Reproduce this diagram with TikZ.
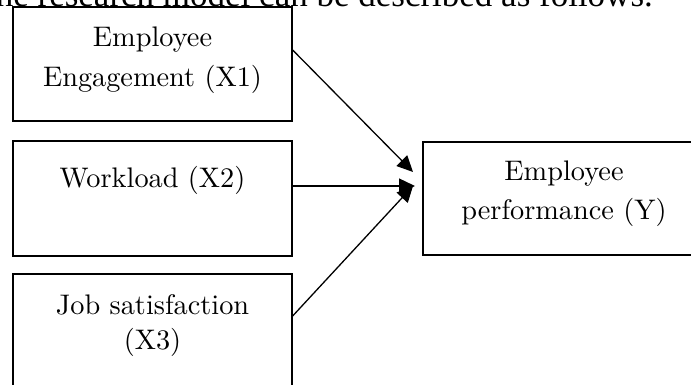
\documentclass[tikz,border=0pt]{standalone}
\usepackage{fontspec}
\newfontfamily\topfont{Liberation Serif}
\newfontfamily\boxfont{lmroman10-regular}[Extension=.otf]
\usetikzlibrary{arrows.meta}
\begin{document}
\begin{tikzpicture}[x=1pt,y=-1pt,
  box/.style={draw, line width=1.3pt, minimum width=279pt, inner sep=0pt},
  lbl/.style={anchor=base, inner sep=0pt, font=\boxfont\fontsize{28.3}{34}\selectfont},
  arr/.style={line width=1.3pt, -{Triangle[length=16pt,width=15pt]}}]
\useasboundingbox (0,0) rectangle (691,385);
\clip (0,0) rectangle (691,385);
\node[anchor=base east, inner sep=0pt, font=\topfont\fontsize{35}{40}\selectfont] (intro) at (653,7) {The research model can be described as follows.};
\node[box, minimum height=114pt] (b1) at (152.5,64) {};
\node[box, minimum height=115pt] (b2) at (152.5,198.5) {};
\node[box, minimum height=126pt] (b3) at (152.5,337) {};
\node[box, minimum width=282pt, minimum height=113pt] (by) at (564,198.5) {};
\node[lbl] (t1a) at (152.5,47) {Employee};
\node[lbl] (t1b) at (152.5,87) {Engagement (X1)};
\node[lbl] (t2) at (152.5,187) {Workload (X2)};
\node[lbl] (t3a) at (152.5,314) {Job satisfaction};
\node[lbl] (t3b) at (152.5,349) {(X3)};
\node[lbl] (tya) at (564,180) {Employee};
\node[lbl] (tyb) at (564,219) {performance (Y)};
\coordinate (e1) at (413,172);
\coordinate (e2) at (415,186);
\coordinate (e3) at (413,186);
\draw[arr] ([yshift=14pt]b1.east) -- (e1);
\draw[arr] ([yshift=12.5pt]b2.east) -- (e2);
\draw[arr] ([yshift=21pt]b3.east) -- (e3);
\end{tikzpicture}
\end{document}
